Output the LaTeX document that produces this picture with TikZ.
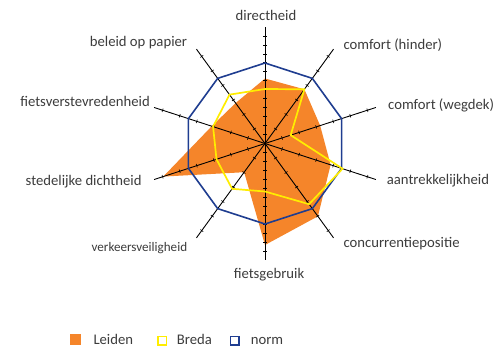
\documentclass[tikz,border=0pt]{standalone}
\usepackage{fontspec}
\setmainfont{Carlito}
\definecolor{leiden}{HTML}{F5852A}
\definecolor{breda}{HTML}{FFED00}
\definecolor{normc}{HTML}{1F3D90}
\definecolor{txt}{HTML}{3C3C3C}
\begin{document}
\begin{tikzpicture}[x=1pt,y=1pt,
  lbl/.style={inner sep=0pt,text=txt,font=\fontsize{14.7}{16}\selectfont},
  slbl/.style={inner sep=0pt,text=txt,font=\fontsize{13.1}{15}\selectfont},
  axisline/.style={black,line width=0.9pt},
  tickline/.style={black,line width=0.6pt},
  leidenfill/.style={fill=leiden,draw=none},
  bredaline/.style={draw=breda,line width=1.7pt,line join=miter},
  normline/.style={draw=normc,line width=1.6pt,line join=miter}]
\useasboundingbox (0,0) rectangle (501,-348);
\coordinate (C) at (265,-143.5);
\def\R{116.6}
% Leiden
\fill[leidenfill,shift={(C)}] (90:65) -- (54:67) -- (18:58) -- (-18:69) -- (-54:90) -- (-90:101.5)
  -- (-126:35.5) -- (-162:107) -- (162:56) -- (126:50) -- cycle;
% axes
\foreach \a/\n/\s in {90/12/8.969,-90/12/8.969,54/6/17.94,18/6/17.94,-18/6/17.94,-54/6/17.94,-126/6/17.94,-162/6/17.94,162/6/17.94,126/6/17.94}{
  \begin{scope}[shift={(C)},rotate=\a]
    \draw[axisline] (0,0) -- (\R,0);
    \foreach \k in {1,...,\n}{\draw[tickline] (\k*\s,-1.8) -- (\k*\s,1.8);}
  \end{scope}
}
% norm
\draw[normline,shift={(C)}] (90:80.5) -- (54:80.5) -- (18:80.5) -- (-18:80.5) -- (-54:80.5) -- (-90:80.5)
  -- (-126:80.5) -- (-162:80.5) -- (162:80.5) -- (126:80.5) -- cycle;
% Breda
\draw[bredaline,shift={(C)}] (90:54.5) -- (54:67) -- (18:27) -- (-18:81.5) -- (-54:75) -- (-90:48)
  -- (-126:56) -- (-162:51) -- (162:54.6) -- (126:60.4) -- cycle;
% labels
\node[lbl,anchor=base] (l1) at (266,-20.7) {directheid};
\node[lbl,anchor=base west] (l2) at (343.3,-49.5) {comfort (hinder)};
\node[lbl,anchor=base west] (l3) at (388,-109) {comfort (wegdek)};
\node[lbl,anchor=base west] (l4) at (386.7,-184.5) {aantrekkelijkheid};
\node[lbl,anchor=base west] (l5) at (343.3,-247) {concurrentiepositie};
\node[lbl,anchor=base] (l6) at (269,-278) {fietsgebruik};
\node[slbl,anchor=base east] (l7) at (187.3,-251.5) {verkeersveiligheid};
\node[lbl,anchor=base east] (l8) at (141.7,-185) {stedelijke dichtheid};
\node[lbl,anchor=base east] (l9) at (150,-106) {fietsverstevredenheid};
\node[lbl,anchor=base east] (l10) at (187.3,-46.5) {beleid op papier};
% legend
\node[fill=leiden,minimum size=10.5pt,inner sep=0pt] (k1) at (75.5,-339.5) {};
\node[lbl,anchor=base west] (t1) at (93.3,-344) {Leiden};
\node[draw=breda,line width=1.5pt,minimum size=8.5pt,inner sep=0pt] (k2) at (162,-340.5) {};
\node[lbl,anchor=base west] (t2) at (176.7,-344) {Breda};
\node[draw=normc,line width=1.5pt,minimum size=8.5pt,inner sep=0pt] (k3) at (234.7,-340.5) {};
\node[lbl,anchor=base west] (t3) at (250.7,-344) {norm};
\end{tikzpicture}
\end{document}
